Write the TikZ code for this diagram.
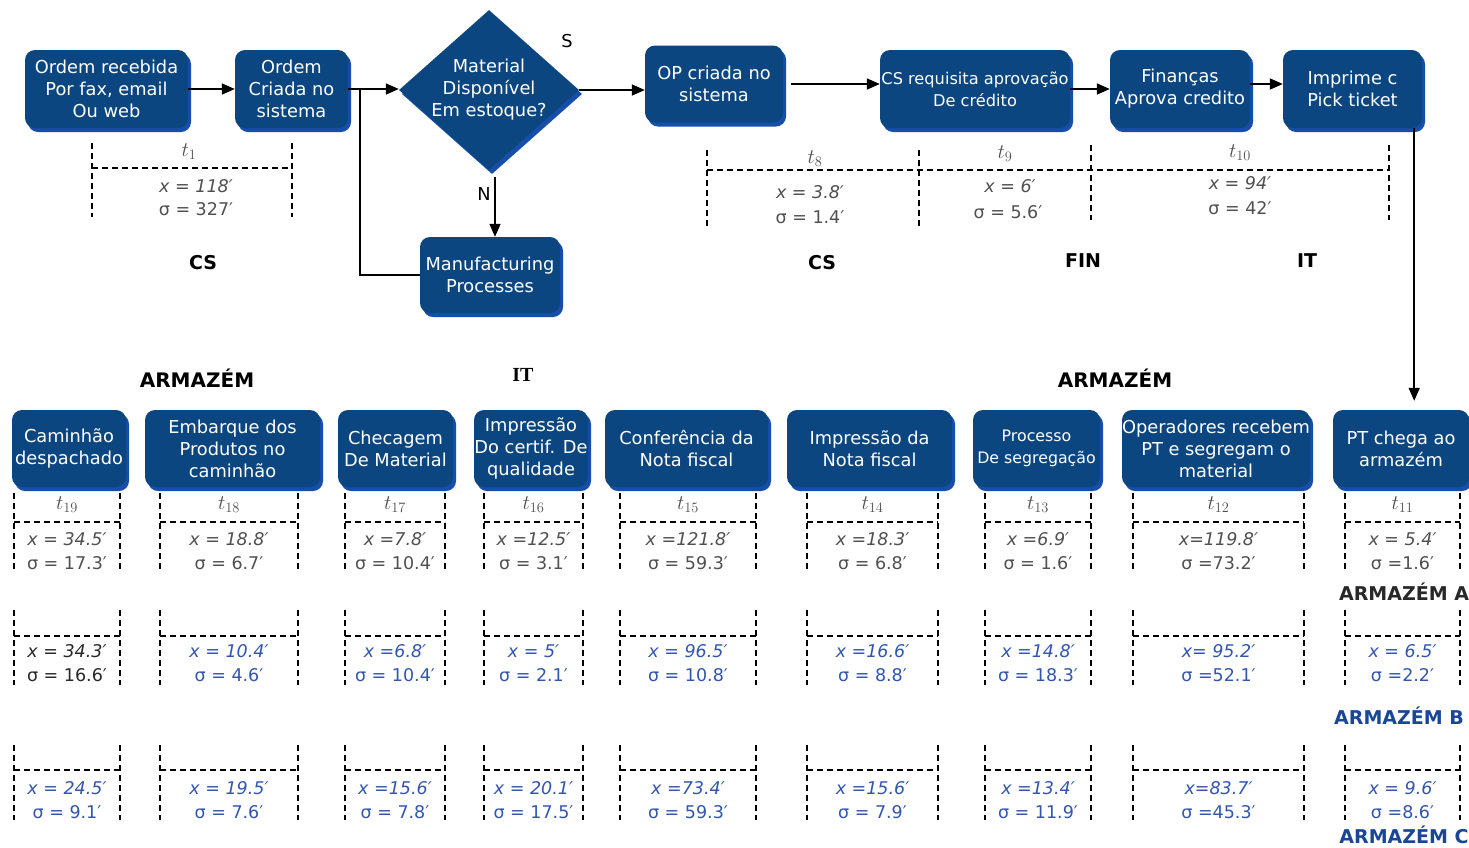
\documentclass[tikz,border=0pt]{standalone}
\usepackage{fontspec}
\setmainfont{DejaVu Sans}
\newfontfamily\serifbold{Liberation Serif}
\usetikzlibrary{arrows.meta,shapes.geometric,shadows}

\definecolor{boxblue}{RGB}{11,70,128}
\definecolor{boxshade}{RGB}{22,78,170}
\definecolor{statgray}{RGB}{80,80,80}
\definecolor{statdark}{RGB}{40,40,40}
\definecolor{statblue}{RGB}{50,85,175}
\definecolor{labblue}{RGB}{25,70,150}

\newcommand\boxfont{\fontsize{17.8}{22}\selectfont}
\newcommand\statfont{\fontsize{17.5}{19}\selectfont}
\newcommand\labfont{\fontsize{19}{20}\selectfont\bfseries}

\tikzset{
  proc/.style={rounded corners=10pt, fill=boxblue, text=white, align=center,
    font=\boxfont, inner sep=0pt,
    drop shadow={shadow xshift=3pt, shadow yshift=-4pt, fill=boxshade, opacity=1}},
  ptext/.style={align=center, font=\boxfont, text=white, inner sep=0pt},
  arr/.style={line width=1.6pt, -{Triangle[length=13pt,width=11pt]}},
  plain/.style={line width=1.6pt},
  dsh/.style={line width=1.4pt, dash pattern=on 6pt off 4pt},
  tlab/.style={font=\fontsize{21}{22}\selectfont, text=statgray, inner sep=0pt},
  stat/.style={font=\statfont, text=statgray, inner sep=0pt},
  statx/.style={font=\statfont\itshape, text=statgray, inner sep=0pt},
  lab/.style={font=\labfont, inner sep=0pt},
}

\begin{document}
\begin{tikzpicture}[x=1pt,y=-1pt]
\fill[white] (0,0) rectangle (1469,847);
\useasboundingbox (0,0) rectangle (1469,847);

% ---------- upper flow ----------
\node[proc, minimum width=163, minimum height=78] (b1) at (106.5,89) {Ordem recebida\\Por fax, email\\Ou web};
\node[proc, minimum width=113, minimum height=78] (b2) at (291.5,89) {Ordem\\Criada no\\sistema};
\node[diamond, fill=boxblue, minimum width=180, minimum height=160, inner sep=0pt,
      drop shadow={shadow xshift=3pt, shadow yshift=-4pt, fill=boxshade, opacity=1}] (dia) at (489,90) {};
\node[ptext] (diatxt) at (dia.center) {Material\\Disponível\\Em estoque?};
\node[proc, minimum width=138, minimum height=77] (op) at (714,84) {OP criada no\\sistema};
\node[proc, minimum width=190, minimum height=78] (cs) at (975,89) {};
\node[ptext, font=\fontsize{16.2}{22}\selectfont] (cstxt) at (cs.center) {CS requisita aprovação\\De crédito};
\node[proc, minimum width=140, minimum height=78] (fin) at (1180,89) {Finanças\\Aprova credito};
\node[proc, minimum width=139, minimum height=78] (imp) at (1352.5,89) {Imprime c\\Pick ticket};
\node[proc, minimum width=140, minimum height=76] (mfg) at (490,275) {Manufacturing\\Processes};

\node[font=\boxfont, inner sep=0pt] (slab) at (567,41) {S};
\node[font=\boxfont, inner sep=0pt] (nlab) at (484,194) {N};

\draw[arr] (b1.east) -- (b2.west);
\draw[arr] (b2.east) -- (b2.east -| dia.west);
\coordinate (br) at (360,89);
\draw[plain] (br) |- (mfg.west);
\draw[arr, shorten <=7pt] ([xshift=6pt]dia.south) -- ([xshift=6pt]dia.south |- mfg.north);
\draw[arr] (dia.east) -- (dia.east -| op.west);
\draw[arr, shorten <=8pt] (op.east) -- (op.east -| cs.west);
\draw[arr] (cs.east) -- (cs.east -| fin.west);
\draw[arr] ([yshift=5pt]fin.east) -- ([yshift=5pt]fin.east -| imp.west);

% ---------- upper time blocks ----------
\draw[dsh] (92,143) -- (92,217) (292,143) -- (292,217) (92,168) -- (292,168);
\node[tlab] (t1) at (189,152) {$t_{1}$};
\node[statx] (t1x) at (196,186) {x = 118′};
\node[stat] (t1s) at (196,209) {σ = 327′};

\draw[dsh] (707,150) -- (707,227) (919,150) -- (919,227)
           (1091,145) -- (1091,220) (1389,145) -- (1389,220) (707,170) -- (1389,170);
\node[tlab] (t8) at (815,159) {$t_{8}$};
\node[statx] (t8x) at (810,192) {x = 3.8′};
\node[stat] (t8s) at (810,217) {σ = 1.4′};
\node[tlab] (t9) at (1005,154) {$t_{9}$};
\node[statx] (t9x) at (1010,186) {x = 6′};
\node[stat] (t9s) at (1008,212) {σ = 5.6′};
\node[tlab] (t10) at (1240,153) {$t_{10}$};
\node[statx] (t10x) at (1240,183) {x = 94′};
\node[stat] (t10s) at (1240,208) {σ = 42′};

\node[lab] (dcs1) at (203,263) {CS};
\node[lab] (dcs2) at (822,263) {CS};
\node[lab] (dfin) at (1083,261) {FIN};
\node[lab] (dit1) at (1307,261) {IT};

% ---------- lower flow ----------
\node[lab, font=\fontsize{20}{21}\selectfont\bfseries] (dar1) at (197,378) {ARMAZÉM};
\node[font=\serifbold\bfseries\fontsize{20}{21}\selectfont, inner sep=0pt] (dit2) at (523,375) {IT};
\node[lab, font=\fontsize{20}{21}\selectfont\bfseries] (dar2) at (1115,378) {ARMAZÉM};

\node[proc, minimum width=114, minimum height=77] (r19) at (69,448.5) {Caminhão\\despachado};
\node[proc, minimum width=175, minimum height=77] (r18) at (232.5,448.5) {Embarque dos\\Produtos no\\caminhão};
\node[proc, minimum width=115, minimum height=77] (r17) at (395.5,448.5) {Checagem\\De Material};
\node[proc, minimum width=114, minimum height=77] (r16) at (531,448.5) {Impressão\\Do certif. De\\qualidade};
\node[proc, minimum width=163, minimum height=77] (r15) at (686.5,448.5) {Conferência da\\Nota fiscal};
\node[proc, minimum width=165, minimum height=77] (r14) at (869.5,448.5) {Impressão da\\Nota fiscal};
\node[proc, minimum width=127, minimum height=77] (r13) at (1036.5,448.5) {};
\node[ptext, font=\fontsize{15.8}{22}\selectfont] (r13txt) at (r13.center) {Processo\\De segregação};
\node[proc, minimum width=188, minimum height=77] (r12) at (1216,448.5) {};
\node[ptext] (r12txt) at (r12.center) {Operadores recebem\\PT e segregam o\\material};
\node[proc, minimum width=136, minimum height=77] (r11) at (1401,448.5) {PT chega ao\\armazém};

\draw[arr, shorten >=9pt] ([xshift=-8pt]imp.south east) -- ([xshift=-8pt]imp.south east |- r11.north);

% ---------- lower time blocks: warehouses A, B, C ----------
\foreach \l/\r/\tn/\xa/\sa/\xb/\sb/\cb/\xc/\sc [count=\i] in {
  14/120/19/x = 34.5′/σ = 17.3′/x = 34.3′/σ = 16.6′/statdark/x = 24.5′/σ = 9.1′,
  160/298/18/x = 18.8′/σ = 6.7′/x = 10.4′/σ = 4.6′/statblue/x = 19.5′/σ = 7.6′,
  345/445/17/x =7.8′/σ = 10.4′/x =6.8′/σ = 10.4′/statblue/x =15.6′/σ = 7.8′,
  484/583/16/x =12.5′/σ = 3.1′/x = 5′/σ = 2.1′/statblue/x = 20.1′/σ = 17.5′,
  620/756/15/x =121.8′/σ = 59.3′/x = 96.5′/σ = 10.8′/statblue/x =73.4′/σ = 59.3′,
  807/938/14/x =18.3′/σ = 6.8′/x =16.6′/σ = 8.8′/statblue/x =15.6′/σ = 7.9′,
  985/1091/13/x =6.9′/σ = 1.6′/x =14.8′/σ = 18.3′/statblue/x =13.4′/σ = 11.9′,
  1133/1304/12/x=119.8′/σ =73.2′/x= 95.2′/σ =52.1′/statblue/x=83.7′/σ =45.3′,
  1345/1460/11/x = 5.4′/σ =1.6′/x = 6.5′/σ =2.2′/statblue/x = 9.6′/σ =8.6′}{
  \draw[dsh] (\l,493) -- (\l,572) (\r,493) -- (\r,572) (\l,522) -- (\r,522);
  \node[tlab] (ta\i) at ({(\l+\r)/2},505) {$t_{\tn}$};
  \node[statx] (xa\i) at ({(\l+\r)/2},539) {\xa};
  \node[stat] (sa\i) at ({(\l+\r)/2},563) {\sa};
  \draw[dsh] (\l,610) -- (\l,685) (\r,610) -- (\r,685) (\l,636) -- (\r,636);
  \node[statx, text=\cb] (xb\i) at ({(\l+\r)/2},651) {\xb};
  \node[stat, text=\cb] (sb\i) at ({(\l+\r)/2},675) {\sb};
  \draw[dsh] (\l,745) -- (\l,820) (\r,745) -- (\r,820) (\l,770) -- (\r,770);
  \node[statx, text=statblue] (xc\i) at ({(\l+\r)/2},788) {\xc};
  \node[stat, text=statblue] (sc\i) at ({(\l+\r)/2},812) {\sc};
}

\node[lab, text=statdark] (whA) at (1404,592) {ARMAZÉM A};
\node[lab, text=labblue] (whB) at (1399,716) {ARMAZÉM B};
\node[lab, text=labblue] (whC) at (1404,835) {ARMAZÉM C};
\end{tikzpicture}
\end{document}
